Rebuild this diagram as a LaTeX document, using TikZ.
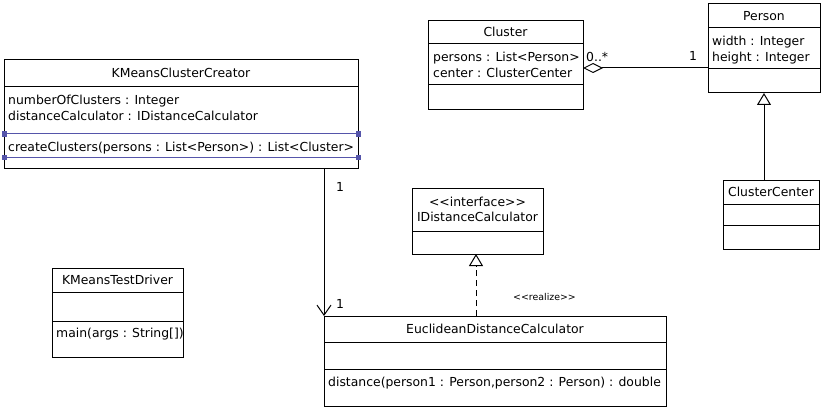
\documentclass[tikz,border=0pt]{standalone}
\usepackage{fontspec}
\setmainfont{DejaVu Sans}
\usetikzlibrary{arrows.meta,calc}
\definecolor{selblue}{HTML}{5555AA}
\begin{document}
\begin{tikzpicture}[x=1pt,y=-1pt,
  every node/.style={font=\fontsize{12.4}{15}\selectfont, inner sep=0pt},
  umlbox/.style={draw, line width=1pt, fill=white, anchor=north west, outer sep=0pt, inner sep=0pt},
  sepline/.style={line width=1pt},
  selline/.style={line width=1pt, draw=selblue},
  handle/.style={fill=selblue, minimum size=5pt, inner sep=0pt},
  title/.style={anchor=base},
  member/.style={anchor=base west},
  mult/.style={anchor=base west},
  small/.style={font=\fontsize{9.4}{11}\selectfont, anchor=base west},
  assoc/.style={line width=1pt, -{Straight Barb[length=10pt,width=14pt,line width=1pt]}},
  aggr/.style={line width=1pt, -{Diamond[open,length=20pt,width=10pt,line width=1pt]}},
  gen/.style={line width=1pt, -{Triangle[open,length=12pt,width=14pt,line width=1pt]}},
  realize/.style={gen, dash pattern=on 6pt off 4pt}
]
\useasboundingbox (0,0) rectangle (824,409);
\fill[white] (0,0) rectangle (824,409);

% KMeansClusterCreator
\node[umlbox, minimum width=354pt, minimum height=108pt] (kmc) at (4,60) {};
\draw[sepline] (kmc.west |- 0,87) -- (kmc.east |- 0,87);
\draw[selline] (kmc.west |- 0,134) -- (kmc.east |- 0,134);
\draw[selline] (kmc.west |- 0,157) -- (kmc.east |- 0,157);
\node[handle] (h1) at (kmc.west |- 0,134) {};
\node[handle] (h2) at (kmc.east |- 0,134) {};
\node[handle] (h3) at (kmc.west |- 0,157) {};
\node[handle] (h4) at (kmc.east |- 0,157) {};
\node[title] (kmct) at (181,78) {KMeansClusterCreator};
\node[member] (kmca1) at (8,105) {numberOfClusters : Integer};
\node[member] (kmca2) at (8,121) {distanceCalculator : IDistanceCalculator};
\node[member] (kmco1) at (8,151.5) {createClusters(persons : List<Person>) : List<Cluster>};

% Cluster
\node[umlbox, minimum width=155pt, minimum height=89pt] (cl) at (428,21) {};
\draw[sepline] (cl.west |- 0,44) -- (cl.east |- 0,44);
\draw[sepline] (cl.west |- 0,85) -- (cl.east |- 0,85);
\node[title] (clt) at (505.5,37) {Cluster};
\node[member] (cla1) at (433,61.5) {persons : List<Person>};
\node[member] (cla2) at (433,77.5) {center : ClusterCenter};

% Person
\node[umlbox, minimum width=112pt, minimum height=89pt] (pe) at (708,4) {};
\draw[sepline] (pe.west |- 0,28) -- (pe.east |- 0,28);
\draw[sepline] (pe.west |- 0,69) -- (pe.east |- 0,69);
\node[title] (pet) at (764,20.5) {Person};
\node[member] (pea1) at (712,45.5) {width : Integer};
\node[member] (pea2) at (712,61.5) {height : Integer};

% ClusterCenter
\node[umlbox, minimum width=96pt, minimum height=69pt] (cc) at (723,180) {};
\draw[sepline] (cc.west |- 0,204) -- (cc.east |- 0,204);
\draw[sepline] (cc.west |- 0,225) -- (cc.east |- 0,225);
\node[title] (cct) at (771,196.5) {ClusterCenter};

% IDistanceCalculator
\node[umlbox, minimum width=131pt, minimum height=66pt] (idc) at (412,188) {};
\draw[sepline] (idc.west |- 0,231) -- (idc.east |- 0,231);
\node[title] (idcs) at (477.5,206.5) {{<}{<}interface{>}{>}};
\node[title] (idct) at (477.5,221.5) {IDistanceCalculator};

% EuclideanDistanceCalculator
\node[umlbox, minimum width=342pt, minimum height=90pt] (edc) at (324,316) {};
\draw[sepline] (edc.west |- 0,342) -- (edc.east |- 0,342);
\draw[sepline] (edc.west |- 0,369) -- (edc.east |- 0,369);
\node[title] (edct) at (495,333.5) {EuclideanDistanceCalculator};
\node[member] (edco1) at (328,386.5) {distance(person1 : Person,person2 : Person) : double};

% KMeansTestDriver
\node[umlbox, minimum width=131pt, minimum height=89pt] (ktd) at (52,268) {};
\draw[sepline] (ktd.west |- 0,292) -- (ktd.east |- 0,292);
\draw[sepline] (ktd.west |- 0,321) -- (ktd.east |- 0,321);
\node[title] (ktdt) at (117.5,284.5) {KMeansTestDriver};
\node[member] (ktdo1) at (56,337.5) {main(args : String[])};

% connectors
\draw[aggr] (pe.west |- 0,68) -- (cl.east |- 0,68);
\node[mult] (m1) at (586,61.5) {0..*};
\node[mult] (m2) at (689,60.5) {1};

\draw[gen] (cc.north -| 764,0) -- (pe.south -| 764,0);

\draw[realize] (edc.north -| 476,0) -- (idc.south -| 476,0);
\node[small] (rl) at (513,300.5) {{<}{<}realize{>}{>}};

\draw[assoc] (kmc.south -| edc.west) -- (edc.north west);
\node[mult] (m3) at (336,191) {1};
\node[mult] (m4) at (336,308) {1};
\end{tikzpicture}
\end{document}
